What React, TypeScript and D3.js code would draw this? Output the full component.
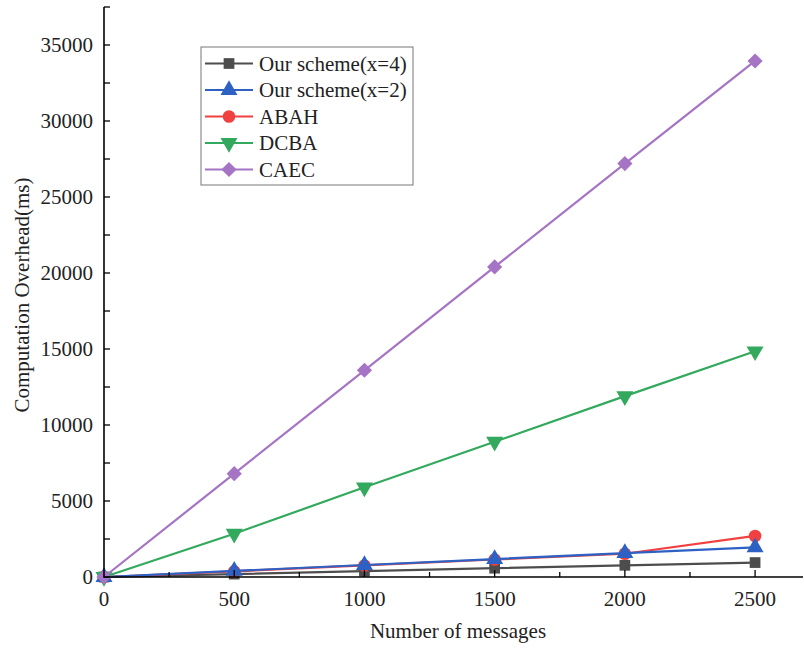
import React, { useEffect, useRef } from "react";
import * as d3 from "d3";

const messages = [0, 500, 1000, 1500, 2000, 2500];
const ourX4 = [0, 190, 380, 580, 770, 950];
const ourX2 = [0, 400, 790, 1180, 1570, 1950];
const abah = [0, 370, 760, 1150, 1530, 2700];
const dcba = [0, 2850, 5900, 8900, 11900, 14850];
const caec = [0, 6800, 13600, 20400, 27200, 33950];

const xTicks = [0, 500, 1000, 1500, 2000, 2500];
const yTicks = [0, 5000, 10000, 15000, 20000, 25000, 30000, 35000];

const series = [
  { name: "Our scheme(x=4)", values: ourX4, color: "#4d4d4d", shape: "square" },
  { name: "Our scheme(x=2)", values: ourX2, color: "#2d62c4", shape: "triangle" },
  { name: "ABAH", values: abah, color: "#f04040", shape: "circle" },
  { name: "DCBA", values: dcba, color: "#33a95e", shape: "triangleDown" },
  { name: "CAEC", values: caec, color: "#a574c4", shape: "diamond" },
];
// draw order: blue triangles sit on top of red circles
const drawOrder = [0, 2, 1, 3, 4];

const W = 804;
const H = 651;
const left = 104;
const bottom = 577;
const right = 803;
const top = 7;
const font = "'Liberation Serif', 'Times New Roman', serif";
const fs = 21;

const symbolFor = (shape: string) => {
  switch (shape) {
    case "square":
      return d3.symbol().type(d3.symbolSquare).size(115);
    case "triangle":
    case "triangleDown":
      return d3.symbol().type(d3.symbolTriangle).size(125);
    case "circle":
      return d3.symbol().type(d3.symbolCircle).size(125);
    default:
      return d3.symbol().type(d3.symbolSquare).size(115);
  }
};
const rotFor = (shape: string) =>
  shape === "triangleDown" ? " rotate(180)" : shape === "diamond" ? " rotate(45)" : "";

const App = () => {
  const svgRef = useRef<SVGSVGElement>(null);

  useEffect(() => {
    if (!svgRef.current) return;
    const svg = d3.select(svgRef.current);
    svg.selectAll("*").remove();

    const x = d3.scaleLinear().domain([0, 2684]).range([left, right]);
    const y = d3.scaleLinear().domain([0, 37500]).range([bottom, top]);

    // lines + markers
    const line = d3
      .line<number>()
      .x((_, i) => x(messages[i]))
      .y((d) => y(d));

    drawOrder.forEach((si) => {
      const s = series[si];
      const g = svg.append("g");
      g.append("path")
        .attr("d", line(s.values))
        .attr("fill", "none")
        .attr("stroke", s.color)
        .attr("stroke-width", 2.2);
      g.selectAll("path.m")
        .data(s.values)
        .join("path")
        .attr("class", "m")
        .attr("d", symbolFor(s.shape)() as string)
        .attr("fill", s.color)
        .attr("transform", (d, i) => `translate(${x(messages[i])},${y(d)})${rotFor(s.shape)}`);
    });

    // axes
    const axisG = svg.append("g");
    axisG
      .append("line")
      .attr("x1", left)
      .attr("x2", left)
      .attr("y1", top)
      .attr("y2", bottom + 0.5)
      .attr("stroke", "#000")
      .attr("stroke-width", 1.6);
    axisG
      .append("line")
      .attr("x1", left - 0.5)
      .attr("x2", right)
      .attr("y1", bottom)
      .attr("y2", bottom)
      .attr("stroke", "#000")
      .attr("stroke-width", 1.6);

    // y ticks (inward), major + minor
    d3.range(0, 37501, 2500).forEach((v) => {
      axisG
        .append("line")
        .attr("x1", left)
        .attr("x2", left + 6)
        .attr("y1", y(v))
        .attr("y2", y(v))
        .attr("stroke", "#000")
        .attr("stroke-width", 1.3);
    });
    d3.range(250, 2684, 250).forEach((v) => {
      const major = v % 500 === 0;
      axisG
        .append("line")
        .attr("x1", x(v))
        .attr("x2", x(v))
        .attr("y1", bottom)
        .attr("y2", bottom - (major ? 7 : 5))
        .attr("stroke", "#000")
        .attr("stroke-width", 1.3);
    });

    axisG
      .selectAll("text.yt")
      .data(yTicks)
      .join("text")
      .attr("class", "yt")
      .attr("x", left - 11)
      .attr("y", (d) => y(d))
      .attr("dy", "0.35em")
      .attr("text-anchor", "end")
      .attr("font-family", font)
      .attr("font-size", fs)
      .attr("fill", "#222")
      .text((d) => d);

    axisG
      .selectAll("text.xt")
      .data(xTicks)
      .join("text")
      .attr("class", "xt")
      .attr("x", (d) => x(d))
      .attr("y", 606)
      .attr("text-anchor", "middle")
      .attr("font-family", font)
      .attr("font-size", fs)
      .attr("fill", "#222")
      .text((d) => d);

    svg
      .append("text")
      .attr("x", 458)
      .attr("y", 638)
      .attr("text-anchor", "middle")
      .attr("font-family", font)
      .attr("font-size", fs)
      .attr("fill", "#222")
      .text("Number of messages");

    svg
      .append("text")
      .attr("transform", `translate(29,295) rotate(-90)`)
      .attr("text-anchor", "middle")
      .attr("font-family", font)
      .attr("font-size", fs)
      .attr("fill", "#222")
      .text("Computation Overhead(ms)");

    // legend
    const lg = svg.append("g");
    lg.append("rect")
      .attr("x", 201)
      .attr("y", 47)
      .attr("width", 212)
      .attr("height", 138)
      .attr("fill", "#fff")
      .attr("stroke", "#777")
      .attr("stroke-width", 1);
    series.forEach((s, i) => {
      const cy = 63.5 + i * 26.5;
      lg.append("line")
        .attr("x1", 205)
        .attr("x2", 253)
        .attr("y1", cy)
        .attr("y2", cy)
        .attr("stroke", s.color)
        .attr("stroke-width", 2.2);
      lg.append("path")
        .attr("d", symbolFor(s.shape)() as string)
        .attr("fill", s.color)
        .attr("transform", `translate(229,${cy})${rotFor(s.shape)}`);
      lg.append("text")
        .attr("x", 259)
        .attr("y", cy)
        .attr("dy", "0.35em")
        .attr("font-family", font)
        .attr("font-size", fs)
        .attr("fill", "#222")
        .text(s.name);
    });
  }, []);

  return (
    <div style={{ position: "absolute", left: 0, top: 0 }}>
      <svg ref={svgRef} width={W} height={H} style={{ display: "block", background: "#fff" }} />
    </div>
  );
};

export default App;
